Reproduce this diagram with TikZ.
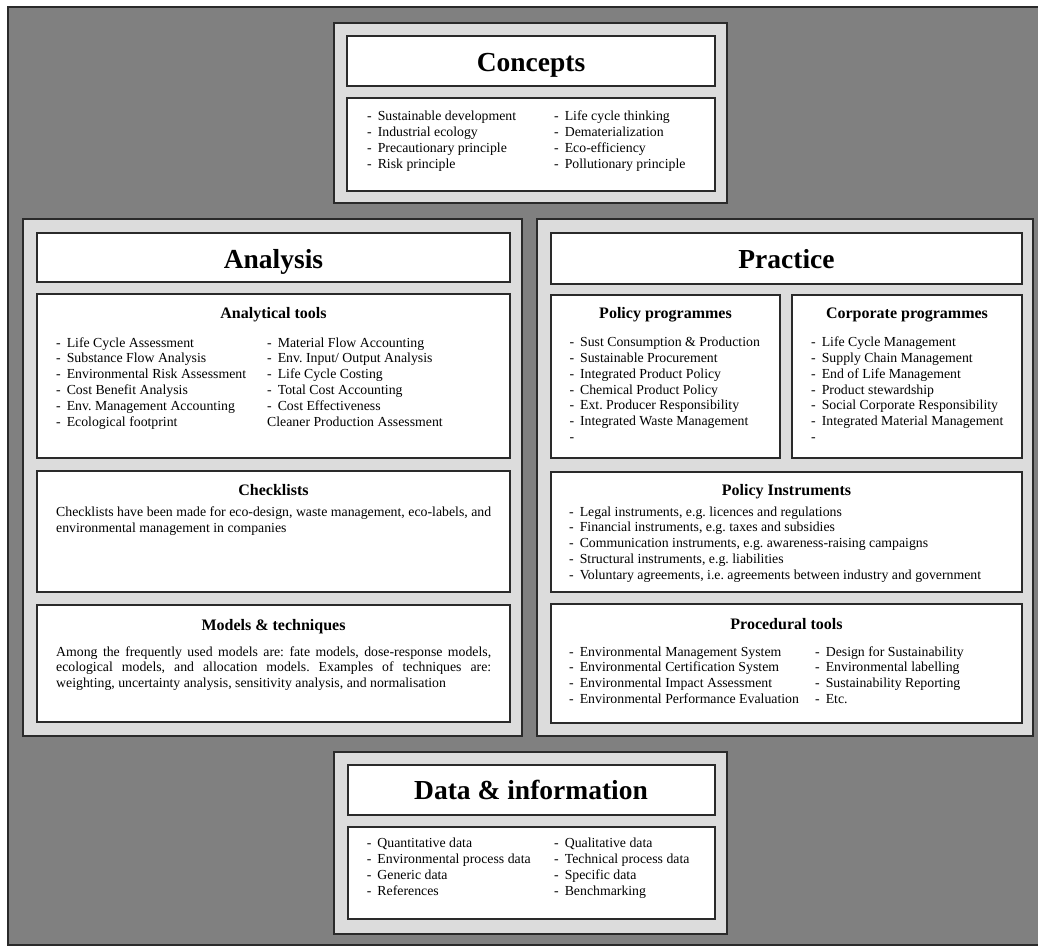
\documentclass[tikz,border=0pt]{standalone}
\usepackage{fontspec}
\setmainfont{Liberation Serif}
\frenchspacing
\definecolor{bg}{HTML}{808080}
\definecolor{panel}{HTML}{DCDCDC}
\definecolor{edge}{HTML}{2A2A2A}
\newcommand{\bodyfont}{\fontsize{13.8}{15.8}\selectfont}
\newcommand{\paratext}[1]{\parbox[t]{435pt}{\bodyfont\frenchspacing\hyphenpenalty=10000\exhyphenpenalty=10000\emergencystretch=20pt #1}}
\begin{document}
\begin{tikzpicture}[x=1pt,y=-1pt,
  panelbox/.style={fill=panel,draw=edge,line width=2pt},
  whitebox/.style={fill=white,draw=edge,line width=1.8pt},
  titletext/.style={font=\fontsize{27.5}{30}\selectfont\bfseries,anchor=base,inner sep=0},
  subtext/.style={font=\fontsize{16}{18}\selectfont\bfseries,anchor=base,inner sep=0},
  listtext/.style={font=\bodyfont,anchor=base west,inner sep=0},
]
\useasboundingbox (0,0) rectangle (1038,947);
\fill[white] (0,0) rectangle (1038,947);
\fill[bg] (7,6) rectangle (1038,946);
\draw[edge,line width=2pt] (1039,7) -- (8,7) -- (8,945) -- (1039,945);

% Concepts
\draw[panelbox] (334,23) rectangle (727,203);
\draw[whitebox] (347,36) rectangle (715,86);
\draw[whitebox] (347,98) rectangle (715,191);
\node[titletext] (tconcepts) at (531,71.7) {Concepts};
\node[listtext] (conc1) at (367,120.7) {\begin{tabular}[t]{@{}l@{\hspace{6pt}}l@{}}
- & Sustainable development\\ - & Industrial ecology\\ - & Precautionary principle\\ - & Risk principle\end{tabular}};
\node[listtext] (conc2) at (554,120.7) {\begin{tabular}[t]{@{}l@{\hspace{6pt}}l@{}}
- & Life cycle thinking\\ - & Dematerialization\\ - & Eco-efficiency\\ - & Pollutionary principle\end{tabular}};

% Analysis
\draw[panelbox] (23,219) rectangle (522,736);
\draw[whitebox] (37,233) rectangle (510,282);
\draw[whitebox] (37,294) rectangle (510,458);
\draw[whitebox] (37,471) rectangle (510,592);
\draw[whitebox] (37,605) rectangle (510,722);
\node[titletext] (tanalysis) at (273.5,268) {Analysis};
\node[subtext] (sanatools) at (273.5,318.3) {Analytical tools};
\node[listtext] (ana1) at (56,347) {\begin{tabular}[t]{@{}l@{\hspace{6pt}}l@{}}
- & Life Cycle Assessment\\ - & Substance Flow Analysis\\ - & Environmental Risk Assessment\\ - & Cost Benefit Analysis\\ - & Env. Management Accounting\\ - & Ecological footprint\end{tabular}};
\node[listtext] (ana2) at (267,347) {\begin{tabular}[t]{@{}l@{\hspace{6pt}}l@{}}
- & Material Flow Accounting\\ - & Env. Input/ Output Analysis\\ - & Life Cycle Costing\\ - & Total Cost Accounting\\ - & Cost Effectiveness\\ \multicolumn{2}{@{}l@{}}{Cleaner Production Assessment}\end{tabular}};
\node[subtext] (schecklists) at (273.5,495) {Checklists};
\node[listtext] (pchecklists) at (56,516.7) {\paratext{Checklists have been made for eco-design, waste management, eco-labels, and\linebreak environmental management in companies}};
\node[subtext] (smodels) at (273.5,630) {Models \& techniques};
\node[listtext] (pmodels) at (56,656) {\paratext{Among the frequently used models are: fate models, dose-response models,\linebreak ecological models, and allocation models. Examples of techniques are:\linebreak weighting, uncertainty analysis, sensitivity analysis, and normalisation}};

% Practice
\draw[panelbox] (537,219) rectangle (1033,736);
\draw[whitebox] (551,233) rectangle (1022,284);
\draw[whitebox] (551,295) rectangle (780,458);
\draw[whitebox] (792,295) rectangle (1022,458);
\draw[whitebox] (551,472) rectangle (1022,592);
\draw[whitebox] (551,604) rectangle (1022,723);
\node[titletext] (tpractice) at (786.5,268) {Practice};
\node[subtext] (spolprog) at (665.5,318.3) {Policy programmes};
\node[listtext] (polprog) at (569.3,346.7) {\begin{tabular}[t]{@{}l@{\hspace{6pt}}l@{}}
- & Sust Consumption \& Production\\ - & Sustainable Procurement\\ - & Integrated Product Policy\\ - & Chemical Product Policy\\ - & Ext. Producer Responsibility\\ - & Integrated Waste Management\\ - & \end{tabular}};
\node[subtext] (scorprog) at (907,318.3) {Corporate programmes};
\node[listtext] (corprog) at (811,346.7) {\begin{tabular}[t]{@{}l@{\hspace{6pt}}l@{}}
- & Life Cycle Management\\ - & Supply Chain Management\\ - & End of Life Management\\ - & Product stewardship\\ - & Social Corporate Responsibility\\ - & Integrated Material Management\\ - & \end{tabular}};
\node[subtext] (spolinst) at (786.5,495) {Policy Instruments};
\node[listtext] (polinst) at (569,516) {\begin{tabular}[t]{@{}l@{\hspace{6pt}}l@{}}
- & Legal instruments, e.g. licences and regulations\\ - & Financial instruments, e.g. taxes and subsidies\\ - & Communication instruments, e.g. awareness-raising campaigns\\ - & Structural instruments, e.g. liabilities\\ - & Voluntary agreements, i.e. agreements between industry and government\end{tabular}};
\node[subtext] (sproc) at (786.5,629.3) {Procedural tools};
\node[listtext] (proc1) at (569,656) {\begin{tabular}[t]{@{}l@{\hspace{6pt}}l@{}}
- & Environmental Management System\\ - & Environmental Certification System\\ - & Environmental Impact Assessment\\ - & Environmental Performance Evaluation\end{tabular}};
\node[listtext] (proc2) at (815,656) {\begin{tabular}[t]{@{}l@{\hspace{6pt}}l@{}}
- & Design for Sustainability\\ - & Environmental labelling\\ - & Sustainability Reporting\\ - & Etc.\end{tabular}};

% Data & information
\draw[panelbox] (334,752) rectangle (727,934);
\draw[whitebox] (348,765) rectangle (715,815);
\draw[whitebox] (348,827) rectangle (715,919);
\node[titletext] (tdata) at (531,799) {Data \& information};
\node[listtext] (data1) at (366.7,847.7) {\begin{tabular}[t]{@{}l@{\hspace{6pt}}l@{}}
- & Quantitative data\\ - & Environmental process data\\ - & Generic data\\ - & References\end{tabular}};
\node[listtext] (data2) at (554,847.7) {\begin{tabular}[t]{@{}l@{\hspace{6pt}}l@{}}
- & Qualitative data\\ - & Technical process data\\ - & Specific data\\ - & Benchmarking\end{tabular}};
\end{tikzpicture}
\end{document}
